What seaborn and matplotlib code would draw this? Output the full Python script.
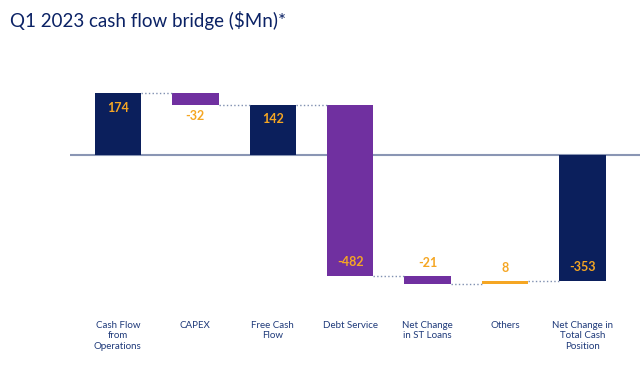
import matplotlib
matplotlib.use("Agg")
import matplotlib.pyplot as plt
import seaborn as sns
import numpy as np
import pandas as pd

categories = ["Cash Flow\nfrom\nOperations", "CAPEX", "Free Cash\nFlow", "Debt Service",
              "Net Change\nin ST Loans", "Others", "Net Change in\nTotal Cash\nPosition"]
values = [174, -32, 142, -482, -21, 8, -353]
kinds = ["total", "delta", "total", "delta", "delta", "delta", "total"]
bar_colors = ["#0b1f5c", "#7030a0", "#0b1f5c", "#7030a0", "#7030a0", "#f5a623", "#0b1f5c"]
label_texts = ["174", "-32", "142", "-482", "-21", "8", "-353"]
# where each value label sits: inside top / inside bottom / below / above
label_pos = ["in_top", "below", "in_top", "in_bottom", "above", "above", "in_bottom"]

# compute waterfall bottoms
bottoms, tops, ends = [], [], []
running = 0
for v, k in zip(values, kinds):
    if k == "total":
        b, t = 0, v
        running = v
    else:
        b, t = running, running + v
        running = running + v
    bottoms.append(min(b, t))
    tops.append(max(b, t))
    ends.append(running)
heights = [t - b for t, b in zip(tops, bottoms)]

df = pd.DataFrame({"cat": categories, "h": heights})

sns.set_theme(style="white")
plt.rcParams["font.family"] = ["Lato", "DejaVu Sans"]

fig = plt.figure(figsize=(6.4, 3.66), dpi=100)
ax = fig.add_axes([0.109, 0.18, 0.891, 0.60])

sns.barplot(data=df, x="cat", y="h", bottom=bottoms, width=0.6, ax=ax,
            color="#0b1f5c", errorbar=None, linewidth=0)
for p, c in zip(ax.patches, bar_colors):
    p.set_facecolor(c)

ax.axhline(0, color="#8a96b4", lw=1.5, zorder=0)

# connectors
for i in range(len(values) - 1):
    ax.plot([i + 0.3, i + 1 - 0.3], [ends[i], ends[i]], ls=":", color="#7f8fb0", lw=1.0, zorder=1)

# labels
for i, (txt, pos) in enumerate(zip(label_texts, label_pos)):
    if pos == "in_top":
        y, va, off = tops[i], "top", -6
    elif pos == "in_bottom":
        y, va, off = bottoms[i], "bottom", 6
    elif pos == "below":
        y, va, off = bottoms[i], "top", -4
    else:
        y, va, off = tops[i], "bottom", 5
    ax.annotate(txt, (i, y), xytext=(0, off), textcoords="offset points",
                ha="center", va=va, color="#f5a623", fontsize=9, fontweight="bold")

ax.set_xlim(-0.62, 6.74)
ax.set_ylim(-407, 210)
ax.set_yticks([])
ax.set_xlabel("")
ax.set_ylabel("")
for s in ax.spines.values():
    s.set_visible(False)
ax.tick_params(axis="x", length=0, pad=15, labelsize=7, labelcolor="#1f3a7a")

fig.text(0.016, 0.943, "Q1 2023 cash flow bridge (\\$Mn)*", color="#0b2265",
         fontsize=13.5, ha="left", va="center")

fig.savefig("out.png", dpi=100)
